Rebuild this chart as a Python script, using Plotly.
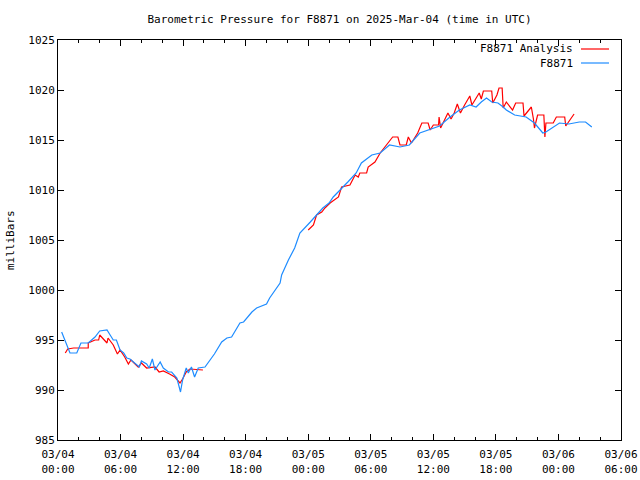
import plotly.graph_objects as go
import pandas as pd

BASE = pd.Timestamp("2025-03-04 00:00")

# F8871 (observed) - hours since 03/04 00:00 UTC, pressure in mb
obs_hours = [0.35, 1.0, 1.15, 1.8, 2.2, 2.9, 3.55, 4.0, 4.7, 5.0, 5.3, 5.6, 5.95, 6.3, 6.6, 6.9,
             7.4, 7.8, 8.0, 8.5, 8.75, 9.05, 9.3, 9.8, 10.1, 10.6, 10.9, 11.4, 11.75, 11.95, 12.3,
             12.5, 12.8, 13.1, 13.45, 14.1, 15.0, 15.7, 16.2, 16.65, 17.45, 17.8, 18.6, 19.05,
             20.0, 20.3, 21.3, 21.45, 22.1, 22.7, 23.2, 23.5, 24.2, 24.8, 25.4, 26.0, 26.4, 27.8,
             28.6, 29.1, 30.1, 30.9, 31.8, 32.8, 33.7, 34.7, 35.7, 36.6, 37.6, 38.5, 39.5, 40.1,
             40.6, 41.1, 41.6, 42.2, 42.7, 43.0, 43.8, 44.9, 45.7, 46.5, 46.8, 47.4, 48.1, 49.0,
             50.0, 50.6, 51.2]
obs_mb = [995.8, 994.0, 993.7, 993.7, 994.7, 994.7, 995.3, 995.9, 996.0, 995.5, 995.0, 995.0,
          994.0, 993.7, 993.2, 993.1, 992.7, 992.3, 992.9, 992.6, 992.2, 993.1, 992.0, 992.8,
          992.2, 991.8, 991.8, 991.2, 989.8, 991.0, 992.2, 991.7, 992.3, 991.3, 992.2, 992.3,
          993.6, 994.8, 995.2, 995.3, 996.7, 996.8, 997.8, 998.2, 998.6, 999.2, 1000.7, 1001.5,
          1003.0, 1004.2, 1005.7, 1006.0, 1006.8, 1007.5, 1008.2, 1008.7, 1009.3, 1010.8,
          1011.7, 1012.7, 1013.5, 1013.7, 1014.5, 1014.3, 1014.5, 1015.7, 1016.1, 1016.4,
          1017.3, 1018.0, 1018.5, 1018.3, 1018.8, 1019.2, 1018.8, 1018.7, 1018.3, 1018.0,
          1017.5, 1017.3, 1016.7, 1015.7, 1015.8, 1016.2, 1016.7, 1016.6, 1016.8, 1016.8, 1016.3]

# F8871 Analysis (None marks the data gap)
ana_hours = [0.7, 0.93, 1.5, 2.9, 2.9, 3.55, 3.9, 4.0, 4.7, 4.8, 5.3, 5.7, 5.95, 6.4, 6.75, 7.0,
             7.7, 8.0, 8.5, 9.3, 9.7, 10.1, 10.7, 11.2, 11.7, 11.95, 12.3, 12.65, 13.9, None,
             24.0, 24.5, 24.8, 25.3, 25.6, 26.1, 26.9, 27.2, 28.0, 28.5, 28.8, 28.95, 29.6, 29.75,
             30.4, 30.9, 31.5, 32.1, 32.6, 32.8, 33.4, 33.6, 33.9, 34.5, 34.9, 35.5, 35.7, 36.0,
             36.5, 36.55, 36.7, 37.0, 37.4, 37.7, 38.0, 38.3, 38.6, 39.0, 39.5, 39.7, 40.4, 40.6,
             40.8, 41.6, 41.7, 42.1, 42.3, 42.6, 42.7, 43.0, 43.6, 43.9, 44.6, 44.7, 45.4, 45.6,
             45.7, 46.0, 46.6, 46.7, 46.8, 47.5, 47.8, 48.6, 48.7, 49.1, 49.5]
ana_mb = [993.7, 994.1, 994.2, 994.2, 994.7, 995.0, 995.0, 995.5, 994.7, 995.2, 994.5, 993.6,
          994.0, 993.3, 992.6, 993.0, 992.3, 992.7, 992.2, 992.3, 991.8, 991.9, 991.6, 991.3,
          990.7, 991.1, 991.8, 992.1, 992.0, None,
          1006.0, 1006.5, 1007.5, 1007.8, 1008.2, 1008.7, 1009.3, 1010.3, 1010.5, 1011.5,
          1011.3, 1011.7, 1011.7, 1012.3, 1012.8, 1013.7, 1014.5, 1015.3, 1015.3, 1014.5,
          1014.5, 1015.3, 1014.7, 1015.7, 1016.7, 1016.7, 1016.0, 1016.5, 1016.5, 1017.3,
          1016.2, 1016.8, 1017.7, 1017.1, 1017.7, 1018.6, 1017.7, 1018.5, 1019.4, 1018.5,
          1019.7, 1019.1, 1019.9, 1019.9, 1018.7, 1019.5, 1020.2, 1020.2, 1018.2, 1018.8,
          1018.0, 1018.7, 1018.7, 1017.4, 1018.3, 1017.1, 1016.2, 1017.5, 1017.5, 1015.3,
          1016.7, 1016.7, 1017.3, 1017.3, 1016.4, 1017.0, 1017.6]

tick_hours = [0, 6, 12, 18, 24, 30, 36, 42, 48, 54]
tick_labels = ["03/04<br>00:00", "03/04<br>06:00", "03/04<br>12:00", "03/04<br>18:00",
               "03/05<br>00:00", "03/05<br>06:00", "03/05<br>12:00", "03/05<br>18:00",
               "03/06<br>00:00", "03/06<br>06:00"]
y_ticks = [985, 990, 995, 1000, 1005, 1010, 1015, 1020, 1025]


def to_time(hours):
    return [None if h is None else BASE + pd.Timedelta(hours=h) for h in hours]


RED = "#ff0000"
BLUE = "#1e8cff"
FONT = "DejaVu Sans Mono"

fig = go.Figure()
fig.add_trace(go.Scatter(x=to_time(ana_hours), y=ana_mb, mode="lines", name="F8871 Analysis",
                         line=dict(color=RED, width=1.2), connectgaps=False))
fig.add_trace(go.Scatter(x=to_time(obs_hours), y=obs_mb, mode="lines", name="F8871",
                         line=dict(color=BLUE, width=1.2)))

L, R, T, B = 58, 621, 40, 440
W = R - L
H = B - T


def px(x):
    return (x - L) / W


def py(y):
    return (B - y) / H


# legend in gnuplot style
for i, (name, col) in enumerate([("F8871 Analysis", RED), ("F8871", BLUE)]):
    yy = 49 + 14 * i
    fig.add_annotation(x=px(575), y=py(yy), xref="paper", yref="paper", text=name,
                       showarrow=False, xanchor="right", yanchor="middle",
                       font=dict(family=FONT, size=11, color="black"))
    fig.add_shape(type="line", xref="paper", yref="paper", x0=px(581), x1=px(609),
                  y0=py(yy), y1=py(yy), line=dict(color=col, width=1.2))

fig.add_annotation(x=px(10), y=0.5, xref="paper", yref="paper", text="milliBars",
                   textangle=-90, showarrow=False, xanchor="center", yanchor="middle",
                   font=dict(family=FONT, size=11, color="black"))

fig.update_layout(
    width=640, height=480,
    margin=dict(l=L, r=640 - R, t=T, b=480 - B, autoexpand=False),
    paper_bgcolor="white", plot_bgcolor="white",
    showlegend=False,
    font=dict(family=FONT, size=11, color="black"),
    title=dict(text="Barometric Pressure for F8871 on 2025-Mar-04 (time in UTC)",
               x=0.5, xref="paper", y=1 - 19 / 480, yref="container",
               xanchor="center", yanchor="middle",
               font=dict(family=FONT, size=11, color="black")),
    xaxis=dict(type="date", automargin=False,
               range=[BASE, BASE + pd.Timedelta(hours=54)],
               tickvals=to_time(tick_hours), ticktext=tick_labels,
               ticks="inside", ticklen=6, tickcolor="black", ticklabelstandoff=4,
               showline=True, mirror="ticks", linecolor="black", linewidth=1,
               showgrid=False, zeroline=False,
               minor=dict(dtick=2 * 3600 * 1000, tick0=BASE, ticks="inside",
                          ticklen=3, tickcolor="black", showgrid=False)),
    yaxis=dict(range=[985, 1025], tickvals=y_ticks, automargin=False,
               ticks="inside", ticklen=6, tickcolor="black",
               showline=True, mirror="ticks", linecolor="black", linewidth=1,
               showgrid=False, zeroline=False),
)

fig.write_html("out.html",
               config={"displayModeBar": False, "staticPlot": True},
               post_script="document.body.style.margin='0';"
                           "document.body.style.overflow='hidden';")
